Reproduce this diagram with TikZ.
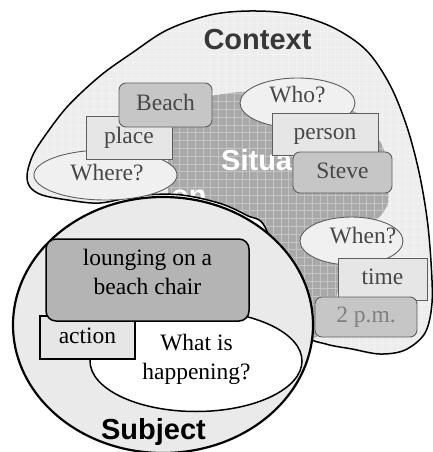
\documentclass[tikz,border=0pt]{standalone}
\usepackage{fontspec}
\setmainfont{Liberation Serif}
\setsansfont{Liberation Sans}
\usetikzlibrary{shapes.geometric}

\definecolor{ctxfill}{HTML}{EDEDED}
\definecolor{sitfill}{HTML}{A9A9A9}
\definecolor{boxlight}{HTML}{E6E6E6}
\definecolor{boxmid}{HTML}{C6C6C6}
\definecolor{ovalfill}{HTML}{F0F0F0}
\definecolor{subjfill}{HTML}{EAEAEA}
\definecolor{chairfill}{HTML}{B4B4B4}
\definecolor{inktxt}{HTML}{474747}
\definecolor{edgegray}{HTML}{5E5E5E}

% outline of the context region (pixel-like units, y grows downwards)
\newcommand{\ctxoutline}{plot[smooth cycle, tension=0.55] coordinates {
  (250,11) (292,14) (332,27) (366,50) (390,85) (407,127) (419,172)
  (427,218) (431,262) (432,303) (425,333) (405,350) (380,354) (352,349)
  (326,344) (306,334) (285,285) (265,227) (247,215.5) (220,203.4)
  (180,194.8) (140,195.5) (100,203) (68,200) (42,195) (30,187) (27,175)
  (32,157) (42,140) (67,107) (100,76) (132,53) (167,30) (210,15)}}

\begin{document}
\begin{tikzpicture}[x=1pt,y=-1pt,
  serif/.style={font=\fontsize{23.5}{28.5}\selectfont},
  bigsans/.style={font=\sffamily\bfseries\fontsize{29}{32}\selectfont},
  ctxbox/.style={serif, rectangle, draw=edgegray, line width=0.9pt,
    text=inktxt, inner sep=0pt, text height=16pt, text depth=5pt},
  ctxoval/.style={ellipse, draw=edgegray, line width=0.9pt,
    fill=ovalfill, inner sep=0pt},
  ctxtext/.style={serif, text=inktxt, inner sep=0pt},
  subjbox/.style={serif, rectangle, draw=black, line width=1.5pt,
    inner sep=0pt, text height=16pt, text depth=5pt},
  subjtext/.style={serif, align=center, inner sep=0pt}]

\useasboundingbox (0,0) rectangle (433,452);

% context region
\fill[ctxfill] \ctxoutline;

\begin{scope}
  \clip \ctxoutline;
  % situation region
  \fill[sitfill, rounded corners=12pt]
    (168,205) -- (168,128) -- (190,100) -- (215,95) -- (245,91)
    -- (300,98) -- (360,112) -- (386,150) -- (389,195) -- (387,212)
    -- (368,225) -- (330,238) -- (345,270) -- (335,300) -- (330,330)
    -- (300,345) -- (200,320) -- (168,260) -- cycle;
  \node[bigsans, text=white, anchor=base west, inner sep=0pt] (sitlabel)
    at (221,170) {Situation};
  \node[bigsans, text=white, anchor=base west, inner sep=0pt] (sitlabeltwo)
    at (171,205) {on};
  % light band between the context edge and the subject circle
  \begin{scope}
    \clip (0,0) rectangle (266,240);
    \fill[ctxfill] (163,327) ellipse [x radius=154, y radius=133];
  \end{scope}
  % fine grid texture
  \draw[white, opacity=0.32, line width=0.5pt, step=7.8pt]
    (0,452) grid (433,0);
\end{scope}
\draw[black, line width=1.5pt] \ctxoutline;

\node[bigsans, text=black!78, anchor=base, inner sep=0pt] (ctxlabel)
  at (257.5,50) {Context};

% where / place / Beach
\node[ctxoval, minimum width=143pt, minimum height=50pt] (whereq) at (105.5,175) {};
\node[ctxtext, anchor=base] (wheret) at (107,180) {Where?};
\node[ctxbox, fill=boxlight, minimum width=86pt, minimum height=43pt] (place)
  at (129,137.5) {place};
\node[ctxbox, fill=boxmid, rounded corners=7pt, minimum width=93pt,
  minimum height=44pt] (beach) at (165.5,105) {Beach};

% who / person / Steve
\node[ctxoval, minimum width=115pt, minimum height=50pt] (whoq) at (297.5,103) {};
\node[ctxtext, anchor=base] (whot) at (297.5,102) {Who?};
\node[ctxbox, fill=boxlight, minimum width=106pt, minimum height=42pt] (person)
  at (325,134) {person};
\node[ctxbox, fill=boxmid, rounded corners=7pt, minimum width=99pt,
  minimum height=41pt] (steve) at (342.5,172.5) {Steve};

% when / time / 2 p.m.
\node[ctxoval, minimum width=103pt, minimum height=48pt] (whenq) at (351.5,241) {};
\node[ctxtext, anchor=base] (whent) at (363,243) {When?};
\node[ctxbox, fill=boxlight, minimum width=89pt, minimum height=42pt] (time)
  at (382.5,279) {time};
\node[ctxbox, fill=boxmid, rounded corners=7pt, text=black!50,
  minimum width=102pt, minimum height=40pt] (pm) at (366,317) {2 p.m.};

% subject circle
\node[ellipse, draw=black, line width=2.2pt, fill=subjfill, inner sep=0pt,
  minimum width=300pt, minimum height=256pt] (subject) at (163,325) {};

\node[ellipse, draw=black, line width=1.5pt, fill=white, inner sep=0pt,
  minimum width=212pt, minimum height=101pt] (happen) at (196,361) {};
\node[subjbox, fill=boxlight, minimum width=95pt, minimum height=43pt] (action)
  at (87.5,337.5) {action};
\node[rectangle, draw=black, line width=1.5pt, fill=chairfill,
  rounded corners=10pt, minimum width=203pt, minimum height=82pt] (chair)
  at (147.5,280) {};
\node[subjtext, anchor=north] (chairt) at (147.5,249) {lounging on a\\beach chair};
\node[subjtext, anchor=north] (happent) at (196.5,334) {What is\\happening?};

\node[bigsans, text=black, anchor=base, inner sep=0pt] (subjlabel)
  at (153.5,439) {Subject};
\end{tikzpicture}
\end{document}
